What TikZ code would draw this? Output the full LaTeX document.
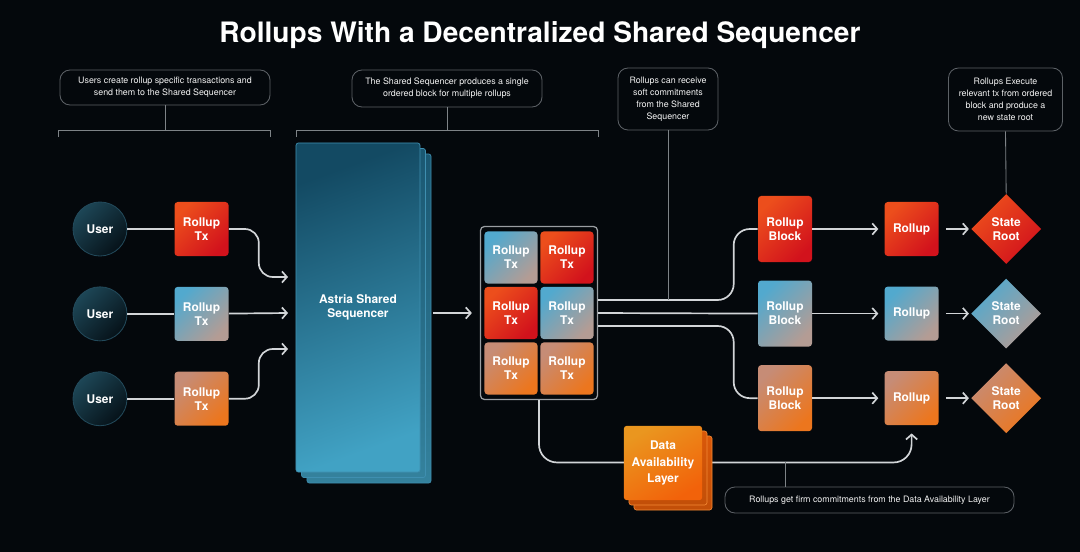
\documentclass[tikz,border=0pt]{standalone}
\usepackage{fontspec}
\setmainfont{TeX Gyre Heros}
\usepackage{xcolor}
\usetikzlibrary{positioning,shapes,arrows.meta,calc}

\definecolor{bgdark}{HTML}{04080C}
\definecolor{linegray}{HTML}{D2D5D8}
\definecolor{notegray}{HTML}{5C6166}
\definecolor{stemgray}{HTML}{7E8387}
\definecolor{framegray}{HTML}{9A9EA2}
\definecolor{redA}{HTML}{EC4E1C}
\definecolor{redM}{HTML}{DE2A1C}
\definecolor{redB}{HTML}{D2121C}
\definecolor{blueA}{HTML}{52A9CE}
\definecolor{blueM}{HTML}{9EA6AA}
\definecolor{blueB}{HTML}{B49C94}
\definecolor{orA}{HTML}{C68C76}
\definecolor{orM}{HTML}{D98650}
\definecolor{orB}{HTML}{EC761E}
\definecolor{seqA}{HTML}{134A63}
\definecolor{seqB}{HTML}{41A2C4}
\definecolor{seqEdge}{HTML}{3F8FB0}
\definecolor{userA}{HTML}{1D4656}
\definecolor{userB}{HTML}{061219}
\definecolor{userEdge}{HTML}{22495A}
\definecolor{daA}{HTML}{EA961F}
\definecolor{daB}{HTML}{F2620A}
\definecolor{daEdge}{HTML}{F58A35}

\begin{document}
\begin{tikzpicture}[
    x=0.025cm, y=-0.025cm,
    node distance=0.75cm and 1.17cm,
    every node/.style={text=white, font=\bfseries\fontsize{8.5}{10}\selectfont, align=center, inner sep=0pt},
    redfill/.style={top color=redA, middle color=redM, bottom color=redB, shading angle=45},
    bluefill/.style={top color=blueA, middle color=blueM, bottom color=blueB, shading angle=45},
    orangefill/.style={top color=orA, middle color=orM, bottom color=orB, shading angle=45},
    tile/.style={rectangle, rounded corners=0.8mm, minimum width=1.35cm, minimum height=1.35cm},
    redtile/.style={tile, redfill},
    bluetile/.style={tile, bluefill},
    orangetile/.style={tile, orangefill},
    cell/.style={minimum width=1.325cm, minimum height=1.3cm},
    blocktile/.style={minimum height=1.65cm},
    user/.style={circle, minimum size=1.35cm, draw=userEdge, line width=0.6pt, top color=userA, bottom color=userB, shading angle=45},
    root/.style={diamond, aspect=1, minimum width=1.75cm, minimum height=1.75cm},
    seqbox/.style={rectangle, rounded corners=0.6mm, minimum width=3.1cm, minimum height=8.225cm, draw=seqEdge, line width=0.5pt, top color=seqA, bottom color=seqB, shading angle=20},
    seqlayer/.style={seqbox, top color=seqA!85!seqB, bottom color=seqB!80!black},
    databox/.style={rectangle, rounded corners=0.6mm, minimum width=1.95cm, minimum height=1.85cm, top color=daA, bottom color=daB, shading angle=30, font=\bfseries\fontsize{8.5}{11.5}\selectfont},
    dalayer/.style={databox, top color=daB!90!black, bottom color=daB!80!black, draw=daEdge, line width=0.4pt},
    frame/.style={rectangle, rounded corners=1mm, minimum width=2.925cm, minimum height=4.325cm, draw=framegray, line width=0.9pt, fill=bgdark},
    note/.style={rectangle, rounded corners=2.5mm, draw=notegray, line width=0.6pt, font=\fontsize{6.3}{8.6}\selectfont, text=white!90!gray},
    link/.style={draw=linegray, line width=1.2pt},
    arrow/.style={link, -{Straight Barb[length=3.5pt,width=8pt]}},
    stem/.style={draw=stemgray, line width=0.6pt},
]
\useasboundingbox (0,0) rectangle (1080,552);
\fill[bgdark] (0,0) rectangle (1080,552);

\node[font=\bfseries\fontsize{20}{24}\selectfont] (title) at (540,35) {Rollups With a Decentralized Shared Sequencer};

% callouts
\node[note, minimum width=5.25cm, minimum height=0.875cm] (note1) at (165,87.5)
    {Users create rollup specific transactions and\\send them to the Shared Sequencer};
\node[note, minimum width=4.75cm, minimum height=0.925cm] (note2) at (447,88.5)
    {The Shared Sequencer produces a single\\ordered block for multiple rollups};
\node[note, minimum width=2.5cm, minimum height=1.55cm] (note3) at (668,99)
    {Rollups can receive\\soft commitments\\from the Shared\\Sequencer};
\node[note, minimum width=2.85cm, minimum height=1.575cm] (note4) at (1005.5,99.5)
    {Rollups Execute\\relevant tx from ordered\\block and produce a\\new state root};
\node[note, minimum width=7.225cm, minimum height=0.65cm] (note5) at (869.5,500)
    {Rollups get firm commitments from the Data Availability Layer};

% users and their transactions
\node[user] (user1) at (100,229) {User};
\node[user, below=of user1] (user2) {User};
\node[user, below=of user2] (user3) {User};
\node[redtile, right=of user1] (tx1) {Rollup\\Tx};
\node[bluetile, right=of user2] (tx2) {Rollup\\Tx};
\node[orangetile, right=of user3] (tx3) {Rollup\\Tx};

% shared sequencer
\node[seqlayer] (seqback2) at (369,318.5) {};
\node[seqlayer] (seqback1) at (363.5,313) {};
\node[seqbox] (seq) at (358,307.5) {Astria Shared\\Sequencer};

% ordered block
\node[frame] (grid) at (539,313) {};
\node[bluetile, cell] (cell11) at (511,257.5) {Rollup\\Tx};
\node[redtile, cell] (cell12) at (567,257.5) {Rollup\\Tx};
\node[redtile, cell] (cell21) at (511,313) {Rollup\\Tx};
\node[bluetile, cell] (cell22) at (567,313) {Rollup\\Tx};
\node[orangetile, cell] (cell31) at (511,368.5) {Rollup\\Tx};
\node[orangetile, cell] (cell32) at (567,368.5) {Rollup\\Tx};

% rollups
\node[redtile, blocktile] (blk1) at (785,229) {Rollup\\Block};
\node[bluetile, blocktile, below=0.45cm of blk1] (blk2) {Rollup\\Block};
\node[orangetile, blocktile, below=0.45cm of blk2] (blk3) {Rollup\\Block};
\node[redtile, right=1.8cm of blk1] (roll1) {Rollup};
\node[bluetile, right=1.8cm of blk2] (roll2) {Rollup};
\node[orangetile, right=1.8cm of blk3] (roll3) {Rollup};
\node[root, redfill, right=0.8cm of roll1] (root1) {State\\Root};
\node[root, bluefill, right=0.8cm of roll2] (root2) {State\\Root};
\node[root, orangefill, right=0.8cm of roll3] (root3) {State\\Root};

% brackets and stems
\coordinate (brk1l) at (58,130);
\coordinate (brk1r) at (270,130);
\coordinate (brk2l) at (296,130);
\coordinate (brk2r) at (598,130);
\draw[stem] ([yshift=-0.175cm]brk1l) -- (brk1l) -- (brk1r) -- ([yshift=-0.175cm]brk1r);
\draw[stem] ([yshift=-0.175cm]brk2l) -- (brk2l) -- (brk2r) -- ([yshift=-0.175cm]brk2r);
\draw[stem] (note1) -- (note1.south |- brk1l);
\draw[stem] (note2) -- (note2.south |- brk2l);

% connectors
\coordinate (in1) at (288,277);
\coordinate (in2) at (288,313);
\coordinate (in3) at (288,349);
\draw[link] (user1) -- (tx1);
\draw[link] (user2) -- (tx2);
\draw[link] (user3) -- (tx3);
\draw[arrow, rounded corners=0.35cm] (tx1.east) -- ++(30,0) |- (in1);
\draw[arrow] (tx2) -- (in2);
\draw[arrow, rounded corners=0.35cm] (tx3.east) -- ++(30,0) |- (in3);
\draw[arrow, shorten <=0.32cm, shorten >=0.2cm] (seq.east |- grid.west) -- (grid.west);

\coordinate (tap1) at ([yshift=0.325cm]grid.east);
\coordinate (tap2) at (grid.east);
\coordinate (tap3) at ([yshift=-0.325cm]grid.east);
\draw[link, rounded corners=0.4cm] (tap1) -| ($(blk1.west)+(-24,0)$) -- (blk1.west);
\draw[link] (tap2) -- (blk2.west);
\draw[link, rounded corners=0.4cm] (tap3) -| ($(blk3.west)+(-24,0)$) -- (blk3.west);
\draw[stem] (note3) -- (note3.south |- tap1);
\draw[stem] (note4.south) -- (root1.north);

\draw[arrow, shorten >=0.15cm] (blk1) -- (roll1);
\draw[arrow, shorten >=0.15cm] (blk2) -- (roll2);
\draw[arrow, shorten >=0.15cm] (blk3) -- (roll3);
\draw[arrow, shorten <=0.18cm, shorten >=0.05cm] (roll1) -- (root1);
\draw[arrow, shorten <=0.18cm, shorten >=0.05cm] (roll2) -- (root2);
\draw[arrow, shorten <=0.18cm, shorten >=0.05cm] (roll3) -- (root3);

\coordinate (dalevel) at ($(roll3.south)+(0,37)$);
\draw[arrow, rounded corners=0.45cm, shorten >=0.2cm] (grid.south) |- (dalevel) -- (roll3.south);
\draw[stem] (note5.north -| blk3) -- (blk3 |- dalevel);

% data availability layer
\node[dalayer] (daback2) at (673,473) {};
\node[dalayer] (daback1) at (668,468) {};
\node[databox] (da) at (663,463) {Data\\Availability\\Layer};
\end{tikzpicture}
\end{document}
